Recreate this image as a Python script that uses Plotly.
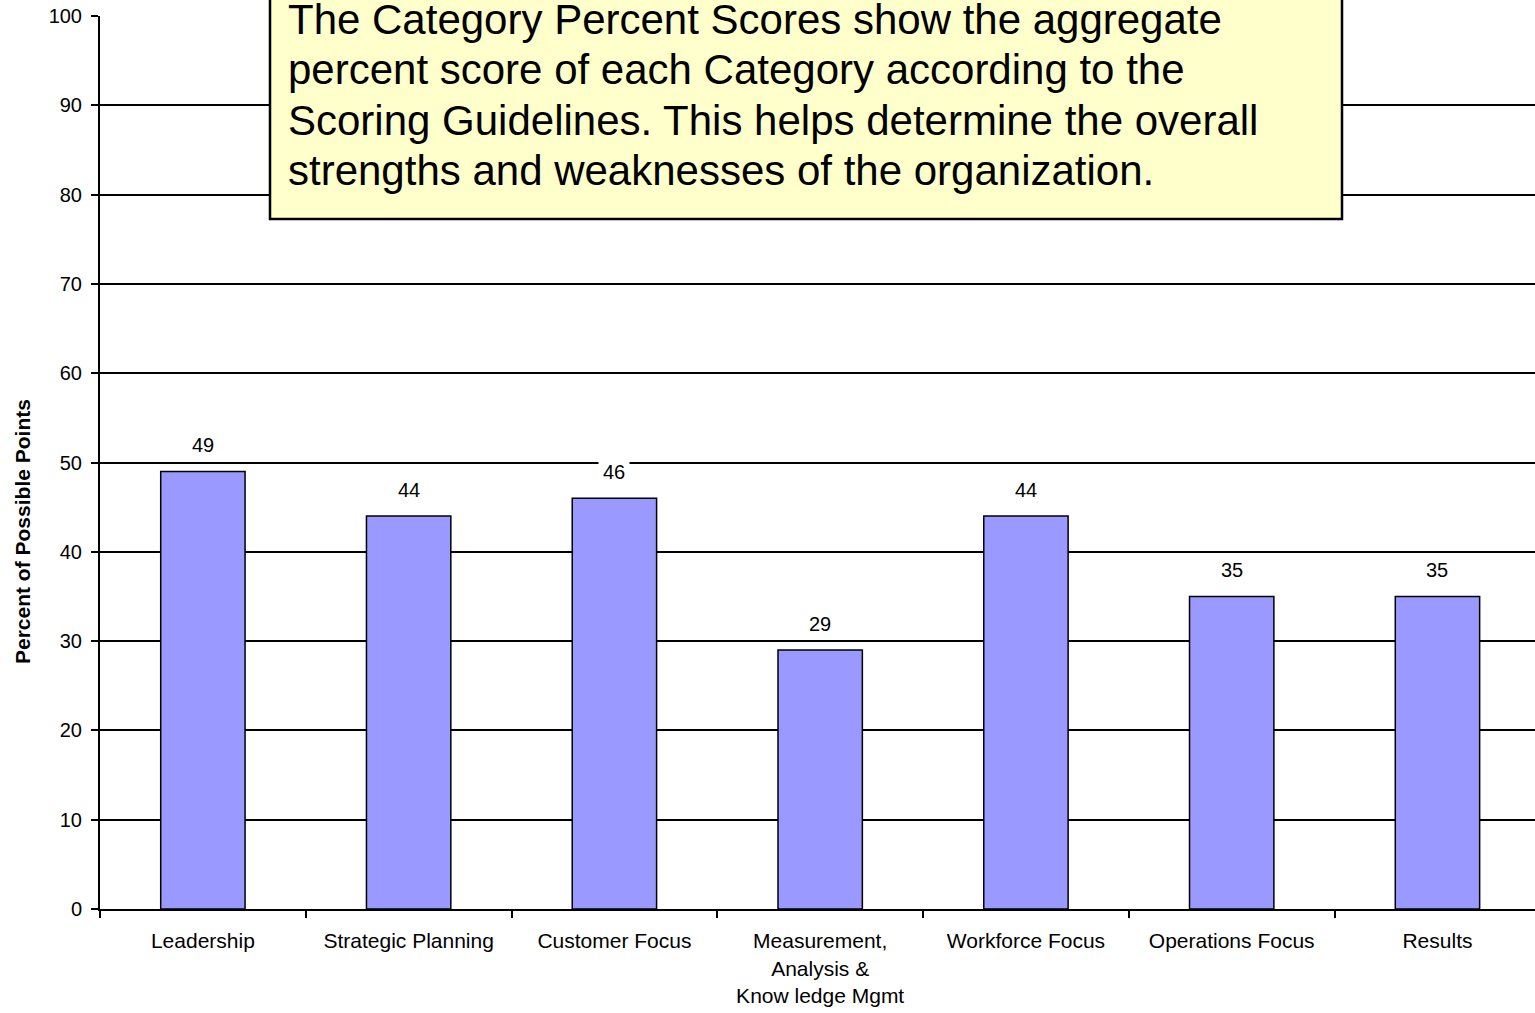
import plotly.graph_objects as go

categories = ["Leadership", "Strategic Planning", "Customer Focus",
              "Measurement,<br>Analysis &<br>Know ledge Mgmt",
              "Workforce Focus", "Operations Focus", "Results"]
scores = [49, 44, 46, 29, 44, 35, 35]
y_ticks = [0, 10, 20, 30, 40, 50, 60, 70, 80, 90, 100]
note_lines = [
    "The Category Percent Scores show the aggregate",
    "percent score of each Category according to the",
    "Scoring Guidelines. This helps determine the overall",
    "strengths and weaknesses of the organization.",
]

FONT = "Liberation Sans, Arial, sans-serif"
W, H = 1535, 1013
L, T, B = 100, 16, 104
PW, PH = W - L, H - T - B

fig = go.Figure()
fig.add_trace(go.Bar(
    x=categories, y=scores, width=0.41,
    marker=dict(color="#9999FF", line=dict(color="black", width=1.5)),
    showlegend=False, hoverinfo="skip",
))

annotations = []
for c, v in zip(categories, scores):
    annotations.append(dict(
        x=c, y=v, xref="x", yref="y", text=str(v), showarrow=False,
        yshift=26, yanchor="middle", bgcolor="white", borderpad=4,
        font=dict(family=FONT, size=20, color="black"),
    ))

# note box
fig.add_shape(type="rect", xref="paper", yref="paper",
              x0=(270 - L) / PW, x1=(1342 - L) / PW,
              y0=(H - B - 219) / PH, y1=1.05,
              fillcolor="#FFFFCC", line=dict(color="black", width=2.5),
              layer="above")
line_centers = [20, 70, 120, 170]
for txt, yc in zip(note_lines, line_centers):
    annotations.append(dict(
        x=(286 - L) / PW, y=(H - B - yc) / PH, xref="paper", yref="paper",
        text=txt, showarrow=False, xanchor="left", yanchor="middle",
        font=dict(family=FONT, size=42, color="black"),
    ))

# y-axis title (placed lower than plot centre as in reference)
annotations.append(dict(
    x=(22 - L) / PW, y=(H - B - 532) / PH, xref="paper", yref="paper",
    text="<b>Percent of Possible Points</b>", textangle=-90, showarrow=False,
    xanchor="center", yanchor="middle",
    font=dict(family=FONT, size=21, color="black"),
))

fig.update_layout(
    width=W, height=H,
    margin=dict(l=L, r=0, t=T, b=B, pad=0),
    paper_bgcolor="white", plot_bgcolor="white",
    annotations=annotations,
    font=dict(family=FONT, size=20, color="black"),
    xaxis=dict(
        type="category", range=[-0.5, 6.474],
        tickson="boundaries", ticks="outside", ticklen=7, tickwidth=1.5, tickcolor="black",
        ticklabelstandoff=12,
        showline=True, linecolor="black", linewidth=2, showgrid=False, zeroline=False,
        tickfont=dict(family=FONT, size=21, color="black"),
    ),
    yaxis=dict(
        range=[0, 100], tickmode="array", tickvals=y_ticks,
        ticks="outside", ticklen=7, tickwidth=1.5, tickcolor="black",
        ticklabelstandoff=5,
        showline=True, linecolor="black", linewidth=2,
        showgrid=True, gridcolor="black", gridwidth=1.5, zeroline=False,
        tickfont=dict(family=FONT, size=20, color="black"),
    ),
)

fig.write_html("out.html", config={"displayModeBar": False},
               post_script="document.body.style.margin='0';document.body.style.overflow='hidden';")
